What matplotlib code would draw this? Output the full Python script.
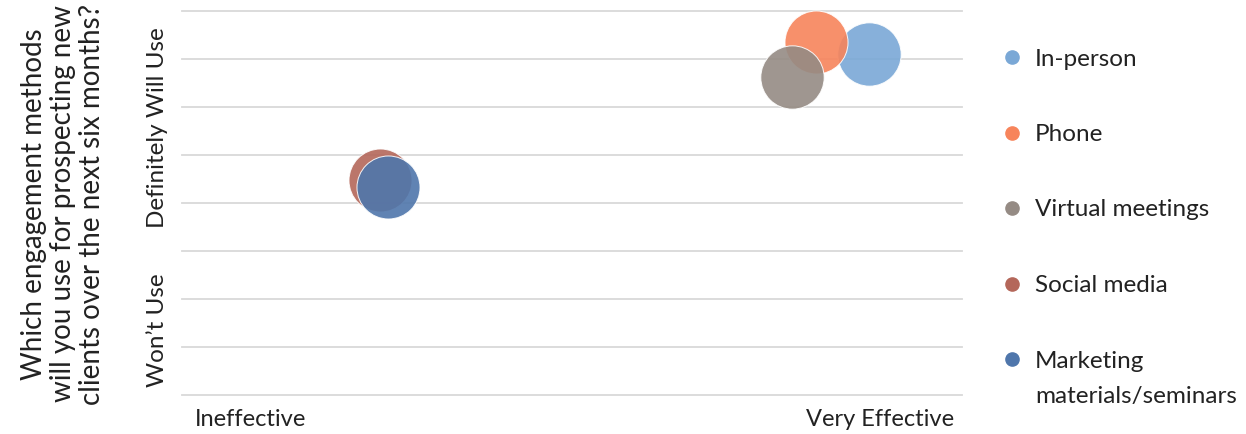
import numpy as np
import matplotlib
matplotlib.use("Agg")
import matplotlib.pyplot as plt
from matplotlib.lines import Line2D

plt.rcParams['font.family'] = ['Lato', 'DejaVu Sans']

# ---- data ----
methods = ["In-person", "Phone", "Virtual meetings", "Social media",
           "Marketing\nmaterials/seminars"]
effectiveness = [3.525, 3.25, 3.128, 1.015, 1.055]   # x: Ineffective (0) -> Very Effective (4)
likelihood = [3.555, 3.68, 3.31, 2.24, 2.165]        # y: Won't Use (0) -> Definitely Will Use (4)
bubble_size = [100, 99, 100, 99, 99]
colors = ["#7AA8D6", "#F7845B", "#958B84", "#B4675A", "#4F76AB"]

y_title = "Which engagement methods\nwill you use for prospecting new\nclients over the next six months?"
x_low, x_high = "Ineffective", "Very Effective"
y_low, y_high = "Won\u2019t Use", "Definitely Will Use"

TXT = "#222222"
W, H = 1246, 434
fig = plt.figure(figsize=(W / 100, H / 100), dpi=100)
ax = fig.add_axes([182 / W, 1 - 395 / H, 780 / W, 384 / H])
ax.set_xlim(0, 4)
ax.set_ylim(0, 4)
ax.set_yticks(np.arange(0, 4.01, 0.5))
ax.set_xticks([])
ax.tick_params(length=0, labelleft=False)
ax.yaxis.grid(True, color="#D9D9D9", lw=1.3)
for gl in ax.get_ygridlines():
    gl.set_clip_on(False)
for sp in ax.spines.values():
    sp.set_visible(False)
ax.set_axisbelow(True)

scale = 20.8
for xi, yi, si, c, lab in zip(effectiveness, likelihood, bubble_size, colors, methods):
    ax.scatter([xi], [yi], s=si * scale, color=c, alpha=0.9, edgecolors=(1, 1, 1, 0.6),
               linewidths=0.7, zorder=3, clip_on=False, label=lab)

# axis end labels
ax.text(0.016, -0.065, x_low, transform=ax.transAxes, ha="left", va="center",
        fontsize=17, color=TXT)
ax.text(0.99, -0.065, x_high, transform=ax.transAxes, ha="right", va="center",
        fontsize=17, color=TXT)
ax.text(-0.031, 0.695, y_high, transform=ax.transAxes, ha="center", va="center",
        rotation=90, fontsize=17.5, color=TXT)
ax.text(-0.031, 0.17, y_low, transform=ax.transAxes, ha="center", va="center",
        rotation=90, fontsize=17.5, color=TXT)

fig.text(63 / W, 1 - 204 / H, y_title, rotation=90, ha="center", va="center",
         fontsize=20, color=TXT, linespacing=1.12, multialignment="center")

# legend (manual so the marker sits on the first line of each label)
row_y = [57, 132.5, 208, 283.5, 359]
line_step = 36
for c, lab, ry in zip(colors, methods, row_y):
    fig.add_artist(Line2D([1012 / W], [1 - ry / H], transform=fig.transFigure,
                          marker="o", ls="", markersize=9.5, color=c))
    for k, part in enumerate(lab.split("\n")):
        fig.text(1035 / W, 1 - (ry + k * line_step) / H, part, ha="left",
                 va="center_baseline", fontsize=17.5, color=TXT)

fig.savefig("out.png", dpi=100)
